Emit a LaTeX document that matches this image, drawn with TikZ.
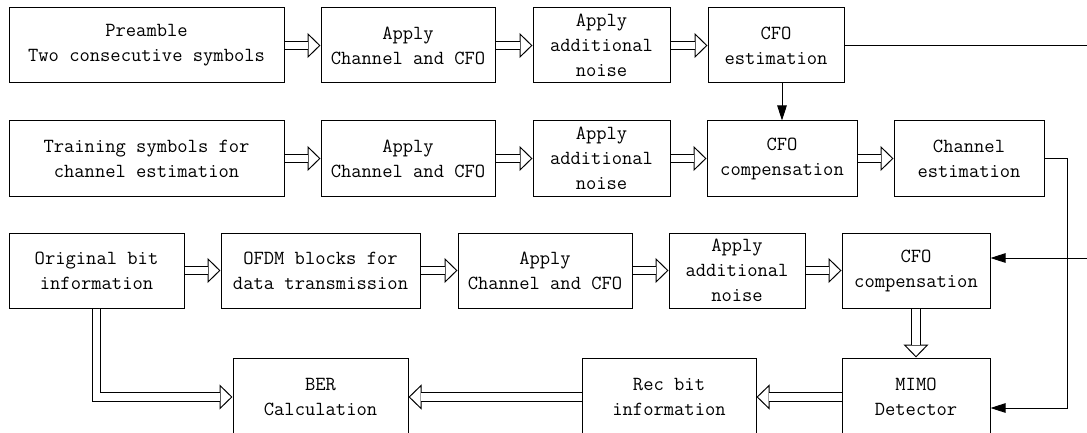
\documentclass[tikz,border=0pt]{standalone}
\usetikzlibrary{arrows.meta,calc}

\begin{document}
\begin{tikzpicture}[x=1pt,y=-1pt,
  blk/.style={draw,line width=1pt,inner sep=0pt,align=center,minimum height=75pt,
    font=\ttfamily\fontsize{20}{25}\selectfont},
  hd/.style={line width=1pt,-{Triangle[open,fill=white,length=13pt,width=25pt]}},
  dbl/.style={line width=1pt,double,double distance=7.5pt,shorten >=12.5pt},
  fb/.style={line width=1pt,-{Triangle[length=15pt,width=9.5pt]}}]
\path[use as bounding box] (0,0) rectangle (1087,433);
\clip (0,0) rectangle (1087,433);

%preamble row
\node[blk,minimum width=275pt] (pre) at (146.5,45.5) {Preamble\\Two consecutive symbols};
\node[blk,minimum width=174pt] (ch1) at (408,45.5) {Apply\\Channel and CFO};
\node[blk,minimum width=137pt] (ns1) at (601.5,45.5) {Apply\\additional\\noise};
\node[blk,minimum width=136pt] (cfoe) at (776,45.5) {CFO\\estimation};

%training row
\node[blk,minimum width=275pt] (trn) at (146.5,158.5) {Training symbols for\\channel estimation};
\node[blk,minimum width=174pt] (ch2) at (408,158.5) {Apply\\Channel and CFO};
\node[blk,minimum width=137pt] (ns2) at (601.5,158.5) {Apply\\additional\\noise};
\node[blk,minimum width=150pt] (cfoc1) at (782,158.5) {CFO\\compensation};
\node[blk,minimum width=150pt] (chest) at (969,158.5) {Channel\\estimation};

%data row
\node[blk,minimum width=175pt] (orig) at (96.5,270.5) {Original bit\\information};
\node[blk,minimum width=199pt] (ofdm) at (320.5,270.5) {OFDM blocks for\\data transmission};
\node[blk,minimum width=174pt] (ch3) at (545,270.5) {Apply\\Channel and CFO};
\node[blk,minimum width=136pt] (ns3) at (737,270.5) {Apply\\additional\\noise};
\node[blk,minimum width=148pt] (cfoc2) at (916,270.5) {CFO\\compensation};

%receiver row
\node[blk,minimum width=175pt,minimum height=78pt] (ber) at (320.5,397) {BER\\Calculation};
\node[blk,minimum width=174pt,minimum height=78pt] (rec) at (669,397) {Rec bit\\information};
\node[blk,minimum width=148pt,minimum height=78pt] (mimo) at (916,397) {MIMO\\Detector};

% hollow arrows
\foreach \a/\b in {pre/ch1,ch1/ns1,ns1/cfoe,trn/ch2,ch2/ns2,ns2/cfoc1,cfoc1/chest,
  orig/ofdm,ofdm/ch3,ch3/ns3,ns3/cfoc2,cfoc2/mimo,mimo/rec,rec/ber}{
\draw[hd] (\a) -- (\b);
\draw[dbl] (\a) -- (\b);
}
\draw[hd] (orig) |- (ber);
\draw[dbl] (orig) |- (ber);

% estimates fed forward
\coordinate (fbout) at (1090,45.5);
\coordinate (fbin) at (1090,258);
\draw[line width=1pt] (cfoe) -- (fbout);
\draw[fb] (cfoc1.north |- cfoe.south) -- (cfoc1.north);
\draw[fb] (fbin) -- ($(cfoc2.east)+(0,-12.5)$);
\draw[fb] (chest.east) -- ++(22.5,0) |- ($(mimo.east)+(0,11)$);
\end{tikzpicture}
\end{document}
